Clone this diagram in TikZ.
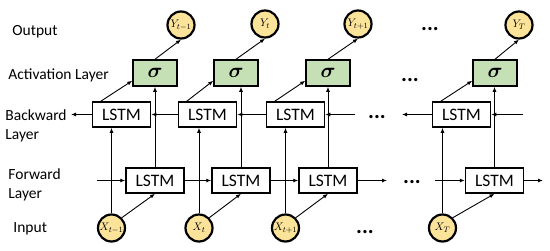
\documentclass[tikz,border=0pt]{standalone}
\usepackage{amsmath}
\usepackage{fontspec}
\setmainfont{Carlito}
\usetikzlibrary{arrows.meta}
\definecolor{cellgreen}{HTML}{C5E0B4}
\definecolor{unityellow}{HTML}{FBE39A}

\begin{document}
\begin{tikzpicture}[x=1pt, y=-1pt, line width=0.9pt, >={Latex[length=5pt,width=4pt]},
	lstm/.style={shape=rectangle, draw, line width=1.5pt, minimum width=58pt, minimum height=25pt, inner sep=0pt, font=\fontsize{17.5}{17.5}\selectfont},
	act/.style={shape=rectangle, draw, fill=cellgreen, line width=1.5pt, minimum width=44pt, minimum height=26pt, inner sep=0pt, font=\fontsize{21}{21}\selectfont},
	unit/.style={shape=circle, draw, fill=unityellow, line width=2.2pt, minimum size=27pt, inner sep=0pt, font=\fontsize{11}{11}\selectfont},
	layer/.style={anchor=west, align=left, inner sep=0pt, font=\fontsize{15.5}{19}\selectfont},
	gap/.style={anchor=base, inner sep=0pt, font=\fontsize{22}{22}\selectfont\bfseries}]
		\useasboundingbox (0,0) rectangle (550,250);

		% Etichette
		\node[layer] (lout) at (12, 32){Output};
		\node[layer] (lact) at (8, 75){Activation Layer};
		\node[layer] (lbwd) at (5, 126){Backward\\Layer};
		\node[layer] (lfwd) at (8, 185){Forward\\Layer};
		\node[layer] (lin) at (13, 229){Input};

		% Ingressi
		\node[unit] (x1) at (111.5, 228){$X_{t-1}$};
		\node[unit] (x2) at (199, 228){$X_{t}$};
		\node[unit] (x3) at (285.5, 228){$X_{t+1}$};
		\node[unit] (x4) at (442.5, 228){$X_{T}$};

		% Strato backward
		\node[lstm] (b1) at (121.5, 114.5){LSTM};
		\node[lstm] (b2) at (207.5, 114.5){LSTM};
		\node[lstm] (b3) at (295.5, 114.5){LSTM};
		\node[lstm] (b4) at (461.5, 114.5){LSTM};

		% Strato forward
		\node[lstm] (f1) at (155, 180.5){LSTM};
		\node[lstm] (f2) at (241, 180.5){LSTM};
		\node[lstm] (f3) at (328, 180.5){LSTM};
		\node[lstm] (f4) at (494.5, 180.5){LSTM};

		% Attivazione
		\node[act] (s1) at (155, 73){$\boldsymbol{\sigma}$};
		\node[act] (s2) at (236, 73){$\boldsymbol{\sigma}$};
		\node[act] (s3) at (328, 73){$\boldsymbol{\sigma}$};
		\node[act] (s4) at (495, 73){$\boldsymbol{\sigma}$};

		% Uscite
		\node[unit] (y1) at (181, 25){$Y_{t-1}$};
		\node[unit] (y2) at (265, 24){$Y_{t}$};
		\node[unit] (y3) at (358, 24){$Y_{t+1}$};
		\node[unit] (y4) at (519, 25){$Y_{T}$};

		% Puntini
		\node[gap] (dout) at (430, 30.5){...};
		\node[gap] (dact) at (410, 81.5){...};
		\node[gap] (dbwd) at (377, 118.5){...};
		\node[gap] (dfwd) at (412, 183.5){...};
		\node[gap] (din) at (365, 233.5){...};

		% Estremi liberi
		\coordinate (bin) at (523, 114.5);
		\coordinate (bgapl) at (402, 114.5);
		\coordinate (bgapr) at (355, 114.5);
		\coordinate (bout) at (71, 114.5);
		\coordinate (fin) at (97, 180.5);
		\coordinate (fgapl) at (387, 180.5);
		\coordinate (fgapr) at (435, 180.5);
		\coordinate (fout) at (543, 180.5);

		% Collegamenti per colonna
		\foreach \i in {1,...,4}{
			\draw[->] (x\i.north) to (x\i.north |- b\i.south);
			\draw[->] (x\i.45) to (f\i.south);
			\draw[->] (f\i.north) to (f\i.north |- s\i.south);
			\draw[->] ([xshift=9pt]b\i.north west) to ([yshift=6pt]s\i.south west);
			\draw[->] (s\i.north) to (y\i.south);
		}

		% Catena backward
		\draw[->] (bin) to (b4.east);
		\draw[->] (b4.west) to (bgapl);
		\draw[->] (bgapr) to (b3.east);
		\draw[->] (b3.west) to (b2.east);
		\draw[->] (b2.west) to (b1.east);
		\draw[->] (b1.west) to (bout);

		% Catena forward
		\draw[->] (fin) to (f1.west);
		\draw[->] (f1.east) to (f2.west);
		\draw[->] (f2.east) to (f3.west);
		\draw[->] (f3.east) to (fgapl);
		\draw[->] (fgapr) to (f4.west);
		\draw[->] (f4.east) to (fout);
	\end{tikzpicture}
\end{document}
